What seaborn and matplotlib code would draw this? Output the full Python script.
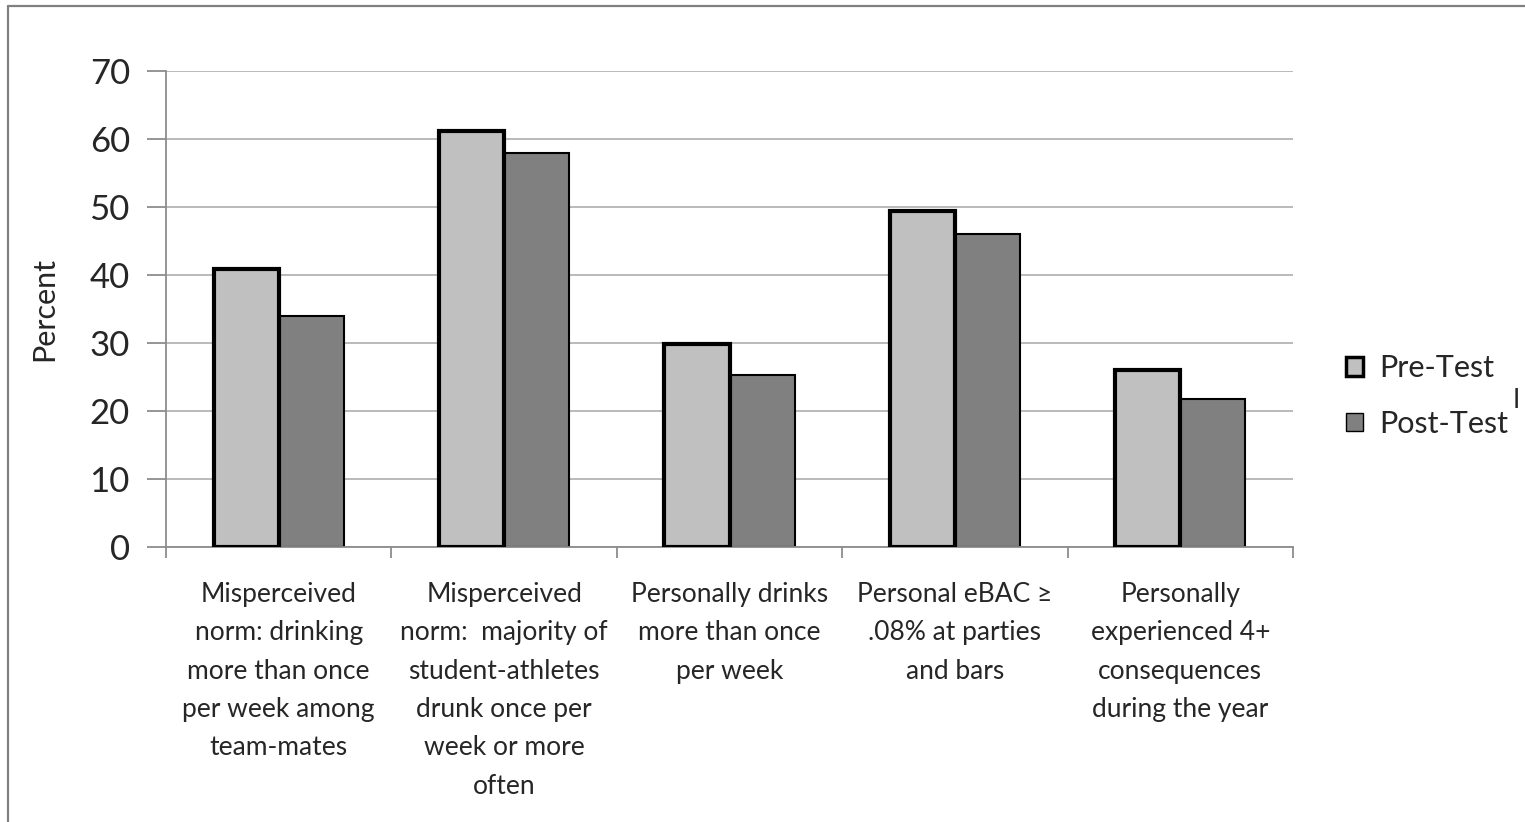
import matplotlib
matplotlib.use("Agg")
import matplotlib.pyplot as plt
from matplotlib.lines import Line2D
from matplotlib.patches import Patch
import seaborn as sns
import pandas as pd

categories = [
    "Misperceived\nnorm: drinking\nmore than once\nper week among\nteam-mates",
    "Misperceived\nnorm:  majority of\nstudent-athletes\ndrunk once per\nweek or more\noften",
    "Personally drinks\nmore than once\nper week",
    "Personal eBAC \u2265\n.08% at parties\nand bars",
    "Personally\nexperienced 4+\nconsequences\nduring the year",
]
pre_test = [40.9, 61.2, 29.8, 49.4, 26.0]
post_test = [33.9, 58.0, 25.3, 46.0, 21.8]
series_names = ["Pre-Test", "Post-Test"]
y_ticks = [0, 10, 20, 30, 40, 50, 60, 70]

df = pd.DataFrame({
    "category": categories * 2,
    "test": [series_names[0]] * len(categories) + [series_names[1]] * len(categories),
    "percent": pre_test + post_test,
})

sns.set_theme(style="white")
plt.rcParams["font.family"] = ["Lato", "DejaVu Sans"]

fig = plt.figure(figsize=(15.25, 8.22), dpi=100)
ax = fig.add_axes([166 / 1525, 1 - 547 / 822, (1293 - 166) / 1525, (547 - 71) / 822])

colors = {"Pre-Test": "#C0C0C0", "Post-Test": "#808080"}
sns.barplot(data=df, x="category", y="percent", hue="test", order=categories,
            hue_order=series_names, palette=colors, width=0.578, gap=0,
            ax=ax, legend=False, saturation=1)

n = len(categories)
for i, p in enumerate(ax.patches[:2 * n]):
    p.set_edgecolor("black")
    if i < n:
        p.set_linewidth(3.0)
        p.set_zorder(3)
    else:
        p.set_linewidth(1.5)
        p.set_zorder(2.5)

ax.set_ylim(0, 70)
ax.set_xlim(-0.5, n - 0.5)
ax.set_yticks(y_ticks)
ax.set_yticklabels([str(t) for t in y_ticks], fontsize=25)
ax.yaxis.grid(True, color="#B4B4B4", linewidth=1.3)
ax.set_axisbelow(True)

for s in ["top", "right"]:
    ax.spines[s].set_visible(False)
for s in ["left", "bottom"]:
    ax.spines[s].set_color("#8C8C8C")
    ax.spines[s].set_linewidth(1.3)

ax.tick_params(axis="y", which="major", direction="out", length=14, width=1.3,
               color="#8C8C8C", pad=12, left=True)
ax.set_xticks(range(n))
ax.set_xticklabels(categories, fontsize=19, linespacing=1.67, va="top")
ax.tick_params(axis="x", which="major", length=0, pad=25)
ax.set_xticks([i - 0.5 for i in range(n + 1)], minor=True)
ax.tick_params(axis="x", which="minor", direction="out", length=8, width=1.3,
               color="#8C8C8C", bottom=True)

ax.set_xlabel("")
ax.set_ylabel("Percent", fontsize=22)
ax.yaxis.set_label_coords((58 - 166) / (1293 - 166), 0.5)

handles = [
    Patch(facecolor=colors["Pre-Test"], edgecolor="black", linewidth=2.5),
    Patch(facecolor=colors["Post-Test"], edgecolor="black", linewidth=1.0),
]
fig.legend(handles, series_names, loc="center left",
           bbox_to_anchor=(1346 / 1525, 1 - 396 / 822), frameon=False,
           borderpad=0, borderaxespad=0,
           fontsize=22, handlelength=0.55, handleheight=0.55,
           handletextpad=0.55, labelspacing=0.9)
fig.text(1516 / 1525, 1 - 400 / 822, "I", fontsize=19, ha="center", va="center")

# Outer frame lines
fig.add_artist(Line2D([8 / 1525, 1], [1 - 6 / 822, 1 - 6 / 822],
                      transform=fig.transFigure, color="#808080", linewidth=1.6))
fig.add_artist(Line2D([8 / 1525, 8 / 1525], [0, 1 - 6 / 822],
                      transform=fig.transFigure, color="#808080", linewidth=1.6))

fig.savefig("out.png", dpi=100, facecolor="white")
